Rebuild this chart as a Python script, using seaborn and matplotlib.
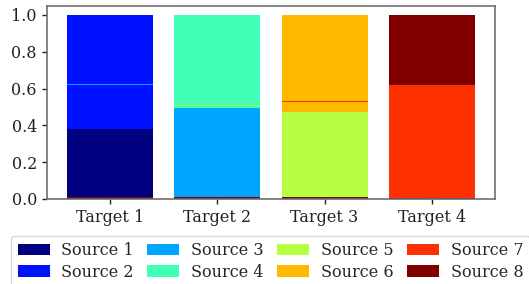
import numpy as np
import matplotlib
matplotlib.use("Agg")
import matplotlib.pyplot as plt
import seaborn as sns

# categories
targets = ["Target 1", "Target 2", "Target 3", "Target 4"]
sources = ["Source 1", "Source 2", "Source 3", "Source 4",
           "Source 5", "Source 6", "Source 7", "Source 8"]

# share of each source in each target (tiny values show up as thin lines)
source_1 = [0.38, 0.006, 0.006, 0.006]
source_2 = [0.62, 0.006, 0.006, 0.006]
source_3 = [0.006, 0.496, 0.006, 0.006]
source_4 = [0.006, 0.504, 0.006, 0.006]
source_5 = [0.006, 0.006, 0.475, 0.006]
source_6 = [0.006, 0.006, 0.525, 0.006]
source_7 = [0.006, 0.006, 0.006, 0.62]
source_8 = [0.006, 0.006, 0.006, 0.38]

values = [source_1, source_2, source_3, source_4,
          source_5, source_6, source_7, source_8]

sns.set_theme(style="ticks")
plt.rcParams['font.family'] = ['DejaVu Serif']
plt.rcParams['font.size'] = 11.5

colors = plt.cm.jet(np.linspace(0, 1, len(sources)))

fig = plt.figure(figsize=(5.29, 2.84), dpi=100)
ax = fig.add_axes([0.0883, 0.2993, 0.8474, 0.6807])

# each source layer sits on top of the previous source's value
prev = np.zeros(len(targets))
for name, vals, c in zip(sources, values, colors):
    sns.barplot(x=targets, y=vals, bottom=prev, color=c, saturation=1,
                errorbar=None, linewidth=0, edgecolor='none', label=name, ax=ax)
    prev = np.array(vals)

ax.set_xlim(-0.5 - 0.19 / 2.2, len(targets) - 0.5 + 0.19 / 2.2)
ax.set_ylim(0, 1.05)
ax.set_yticks([0.0, 0.2, 0.4, 0.6, 0.8, 1.0])
ax.set_yticklabels(["0.0", "0.2", "0.4", "0.6", "0.8", "1.0"])
for s in ax.spines.values():
    s.set_color('#707070')
    s.set_linewidth(1.2)
ax.tick_params(colors='#222222', labelcolor='#222222', length=3.5, width=1,
               labelsize=11.5)

handles, labels = ax.get_legend_handles_labels()
if ax.get_legend() is not None:
    ax.get_legend().remove()
fig.legend(handles, labels, ncol=4, loc='upper center',
           bbox_to_anchor=(0.5113, 0.170), fontsize=11.5,
           handlelength=2.0, handleheight=0.7, handletextpad=0.73,
           columnspacing=0.85, labelspacing=0.28, borderpad=0.4,
           borderaxespad=0, frameon=True, fancybox=True, edgecolor='#cccccc')

fig.savefig("out.png", dpi=100)
